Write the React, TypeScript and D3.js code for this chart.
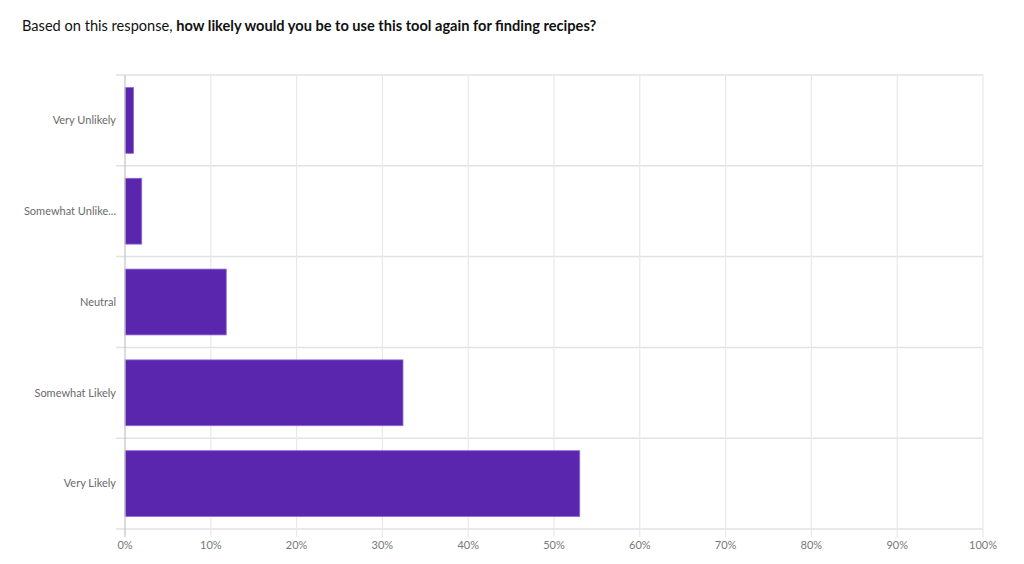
import * as d3 from "d3";
import { useRef, useEffect } from "react";

const categories = [
  "Very Unlikely",
  "Somewhat Unlikely",
  "Neutral",
  "Somewhat Likely",
  "Very Likely",
];
const shortLabels = [
  "Very Unlikely",
  "Somewhat Unlike...",
  "Neutral",
  "Somewhat Likely",
  "Very Likely",
];
const percentages = [1.0, 1.95, 11.8, 32.4, 53.0];
const xTicks = [0, 10, 20, 30, 40, 50, 60, 70, 80, 90, 100];

const titleRegular = "Based on this response, ";
const titleBold = "how likely would you be to use this tool again for finding recipes?";

export default function App() {
  const width = 1024;
  const height = 564;
  const marginTop = 75;
  const marginRight = 41;
  const marginBottom = 35;
  const marginLeft = 125;
  const font = "Lato, 'Open Sans', sans-serif";

  const ref = useRef<SVGSVGElement>(null);

  useEffect((): void => {
    if (!ref.current) return;
    const svg = d3.select(ref.current);
    svg.selectAll("*").remove();

    const x = d3
      .scaleLinear()
      .domain([0, 100])
      .range([marginLeft, width - marginRight]);

    // outer padding = half the inner padding, so bands tile the whole range
    const y = d3
      .scaleBand<string>()
      .domain(categories)
      .range([marginTop, height - marginBottom])
      .paddingInner(0.275)
      .paddingOuter(0.1375);

    const bottom = height - marginBottom;
    const step = y.step();
    const bandEdges = d3.range(categories.length + 1).map((i) => marginTop + i * step);

    // title
    const title = svg
      .append("text")
      .attr("x", 22)
      .attr("y", 31)
      .attr("font-family", font)
      .attr("font-size", 14.6)
      .attr("fill", "#111");
    title.append("tspan").text(titleRegular);
    title.append("tspan").attr("font-weight", "bold").text(titleBold);

    // horizontal row separators
    svg
      .append("g")
      .selectAll("line")
      .data(bandEdges)
      .join("line")
      .attr("x1", marginLeft - 9)
      .attr("x2", width - marginRight)
      .attr("y1", (d) => d)
      .attr("y2", (d) => d)
      .attr("stroke", "#e2e2e2")
      .attr("stroke-width", 1.5);

    // vertical gridlines
    svg
      .append("g")
      .selectAll("line")
      .data(xTicks.slice(1))
      .join("line")
      .attr("x1", (d) => x(d))
      .attr("x2", (d) => x(d))
      .attr("y1", marginTop)
      .attr("y2", bottom + 8)
      .attr("stroke", "#e8e8e8")
      .attr("stroke-width", 1.2);

    // bars
    svg
      .append("g")
      .selectAll("rect")
      .data(percentages)
      .join("rect")
      .attr("x", x(0))
      .attr("y", (_, i) => y(categories[i]) as number)
      .attr("width", (d) => x(d) - x(0))
      .attr("height", y.bandwidth())
      .attr("fill", "#5a26ad")
      .attr("stroke", "#8e6ad8")
      .attr("stroke-width", 0.8);

    // y axis line
    svg
      .append("line")
      .attr("x1", x(0))
      .attr("x2", x(0))
      .attr("y1", marginTop)
      .attr("y2", bottom + 8)
      .attr("stroke", "#c4c4c4")
      .attr("stroke-width", 1.2);

    // category labels
    svg
      .append("g")
      .selectAll("text")
      .data(shortLabels)
      .join("text")
      .attr("x", marginLeft - 9)
      .attr("y", (_, i) => (y(categories[i]) as number) + y.bandwidth() / 2)
      .attr("dy", "0.35em")
      .attr("text-anchor", "end")
      .attr("font-family", font)
      .attr("font-size", 11)
      .attr("fill", "#6a6a6a")
      .text((d) => d);

    // x tick labels
    svg
      .append("g")
      .selectAll("text")
      .data(xTicks)
      .join("text")
      .attr("x", (d) => x(d))
      .attr("y", bottom + 20)
      .attr("text-anchor", "middle")
      .attr("font-family", font)
      .attr("font-size", 11)
      .attr("fill", "#777")
      .text((d) => `${d}%`);
  }, []);

  return (
    <svg
      ref={ref}
      width={width}
      height={height}
      style={{ position: "absolute", left: 0, top: 0, background: "#fff" }}
    />
  );
}
